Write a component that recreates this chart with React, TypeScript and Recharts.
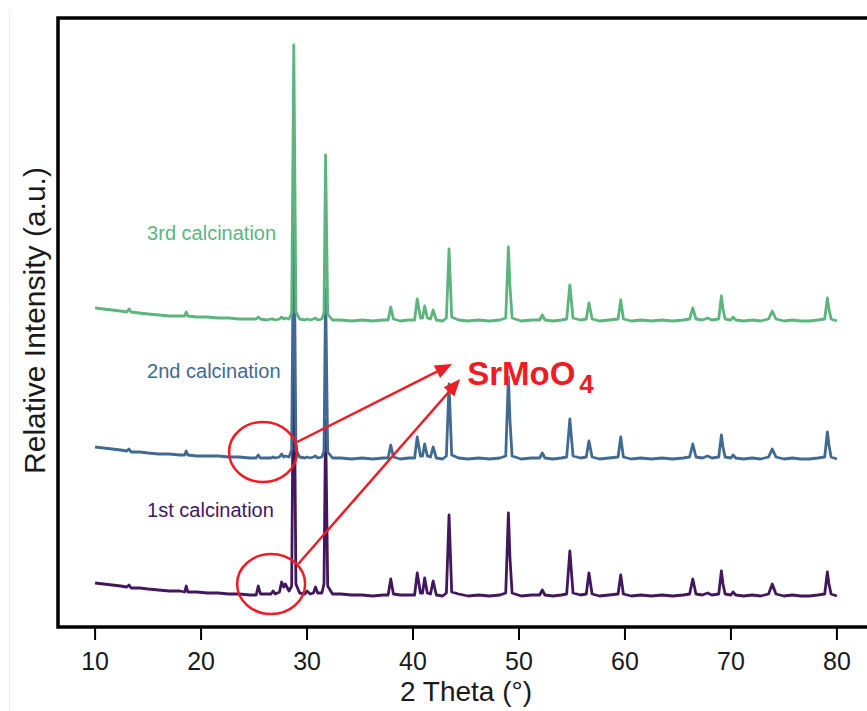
import React from 'react';
import { LineChart, Line, XAxis, YAxis, ReferenceArea, ReferenceDot, ReferenceLine } from 'recharts';

// 2θ grid shared by the three scans
const twoTheta = [
  10.0, 10.8, 11.6, 12.4, 13.0, 13.2, 13.4, 14.2, 15.0, 16.0,
  17.0, 18.0, 18.45, 18.6, 18.75, 19.6, 20.6, 21.6, 22.6, 23.6,
  24.6, 25.2, 25.4, 25.6, 26.2, 26.6, 26.8, 27.0, 27.4, 27.6,
  27.8, 27.95, 28.3, 28.55, 28.75, 28.95, 29.3, 29.8, 30.0, 30.3,
  30.6, 30.8, 31.0, 31.4, 31.6, 31.75, 31.95, 32.4, 33.2, 34.2,
  35.2, 36.2, 37.2, 37.65, 37.9, 38.15, 38.8, 39.6, 40.15, 40.4,
  40.7, 40.9, 41.1, 41.35, 41.65, 41.9, 42.2, 42.8, 43.15, 43.4,
  43.65, 44.3, 45.2, 46.2, 47.2, 48.2, 48.75, 49.0, 49.15, 49.35,
  50.2, 51.2, 51.95, 52.2, 52.45, 53.2, 54.0, 54.5, 54.8, 55.1,
  55.8, 56.35, 56.6, 56.9, 57.6, 58.5, 59.35, 59.6, 59.85, 60.6,
  61.5, 62.5, 63.5, 64.5, 65.5, 66.1, 66.4, 66.7, 67.3, 67.8,
  68.2, 68.85, 69.1, 69.25, 69.45, 70.0, 70.2, 70.45, 71.2, 72.0,
  72.8, 73.55, 73.9, 74.25, 75.0, 75.8, 76.6, 77.4, 78.2, 78.85,
  79.1, 79.25, 79.45, 80.0,
];

// intensities above each scan's own baseline (a.u.)
const firstCalc = [
  13, 12, 11, 10, 9, 11, 8, 8, 7, 6,
  5, 5, 4, 10, 4, 4, 3, 3, 2, 2,
  1, 1, 10, 2, 2, 2, 5, 2, 4, 14,
  9, 12, 5, 10, 285, 12, 3, 2, 5, 2,
  3, 9, 3, 3, 12, 176, 10, 2, 2, 1,
  1, 0, 1, 1, 17, 2, 1, 1, 1, 23,
  3, 3, 18, 3, 2, 15, 1, 0, 3, 81,
  4, 2, 0, 1, 0, 1, 3, 83, 38, 3,
  0, 1, 1, 6, 1, 0, 1, 2, 45, 3,
  1, 2, 23, 2, 0, 1, 2, 21, 2, 0,
  1, 0, 1, 0, 1, 2, 17, 2, 1, 3,
  1, 2, 25, 12, 2, 1, 4, 1, 0, 1,
  0, 2, 12, 2, 0, 1, 0, 0, 1, 2,
  24, 12, 2, 0,
];

const secondCalc = [
  12, 11, 10, 9, 8, 10, 7, 7, 6, 5,
  5, 4, 4, 8, 4, 3, 3, 3, 2, 2,
  1, 1, 4, 1, 1, 1, 2, 1, 2, 5,
  2, 3, 2, 9, 272, 9, 2, 1, 2, 1,
  2, 3, 1, 2, 8, 170, 7, 1, 1, 0,
  1, 0, 1, 1, 14, 2, 0, 1, 1, 22,
  3, 3, 15, 3, 2, 12, 1, 0, 3, 75,
  4, 1, 0, 1, 0, 1, 3, 82, 38, 3,
  0, 1, 1, 6, 1, 0, 1, 2, 40, 3,
  1, 2, 18, 2, 0, 1, 2, 22, 2, 0,
  1, 0, 1, 0, 1, 2, 15, 2, 1, 3,
  1, 2, 24, 12, 2, 1, 4, 1, 0, 1,
  0, 2, 10, 2, 0, 1, 0, 0, 1, 2,
  27, 14, 2, 0,
];

const thirdCalc = [
  13, 12, 11, 10, 9, 12, 9, 8, 7, 6,
  5, 5, 5, 9, 5, 4, 4, 3, 3, 2,
  2, 2, 4, 2, 1, 2, 2, 1, 2, 4,
  2, 3, 2, 8, 276, 9, 2, 1, 2, 1,
  2, 3, 1, 2, 8, 166, 7, 1, 1, 0,
  1, 0, 1, 1, 14, 2, 0, 1, 1, 22,
  3, 3, 15, 3, 2, 11, 1, 0, 3, 72,
  4, 1, 0, 1, 0, 1, 3, 74, 34, 3,
  0, 1, 1, 6, 1, 0, 1, 2, 36, 3,
  1, 2, 18, 2, 0, 1, 2, 21, 2, 0,
  1, 0, 1, 0, 1, 2, 13, 2, 1, 3,
  1, 2, 25, 12, 2, 1, 4, 1, 0, 1,
  0, 2, 10, 2, 0, 1, 0, 0, 1, 2,
  23, 12, 2, 0,
];

// vertical stacking offsets
const stackOffsets = [31, 168, 306];
const seriesNames = ['1st calcination', '2nd calcination', '3rd calcination'];
const xTicks = [10, 20, 30, 40, 50, 60, 70, 80];

const data = twoTheta.map((t, i) => ({
  t,
  first: firstCalc[i] + stackOffsets[0],
  second: secondCalc[i] + stackOffsets[1],
  third: thirdCalc[i] + stackOffsets[2],
}));

const FONT = '"Liberation Sans", Arial, Helvetica, sans-serif';
const COLORS = ['#42175e', '#416a92', '#5cb57d'];
const RED = '#ee1c24';

const Arrow = (props: any) => {
  const { x1, y1, x2, y2 } = props;
  const ang = Math.atan2(y2 - y1, x2 - x1);
  const len = 17;
  const hw = 7;
  const bx = x2 - len * Math.cos(ang);
  const by = y2 - len * Math.sin(ang);
  const px = -Math.sin(ang) * hw;
  const py = Math.cos(ang) * hw;
  return (
    <g>
      <line x1={x1} y1={y1} x2={bx} y2={by} stroke={RED} strokeWidth={2.5} />
      <polygon points={`${x2},${y2} ${bx + px},${by + py} ${bx - px},${by - py}`} fill={RED} />
    </g>
  );
};

const ringShape = (p: any) => (
  <ellipse cx={p.cx} cy={p.cy} rx={34} ry={30} fill="none" stroke={RED} strokeWidth={2.5} />
);

const seriesLabel = (text: string, color: string) => (p: any) => (
  <text x={p.cx} y={p.cy} fill={color} fontSize={20} fontFamily={FONT}>{text}</text>
);

const phaseLabel = (p: any) => (
  <text x={p.cx} y={p.cy} fill={RED} fontSize={33} fontWeight="bold" fontFamily={FONT}>
    SrMoO
    <tspan fontSize={26} dx={4} dy={8}>4</tspan>
  </text>
);

const xTitle = (props: any) => {
  const { viewBox } = props;
  return (
    <text x={viewBox.x + viewBox.width / 2} y={viewBox.y + 74} textAnchor="middle" fontSize={28} fill="#1a1a1a" fontFamily={FONT}>
      2 Theta (°)
    </text>
  );
};

const yTitle = (props: any) => {
  const { viewBox } = props;
  const cy = viewBox.y + viewBox.height / 2 - 2;
  return (
    <text x={45} y={cy} transform={`rotate(-90 45 ${cy})`} textAnchor="middle" fontSize={30} fill="#1a1a1a" fontFamily={FONT}>
      Relative Intensity (a.u.)
    </text>
  );
};

export default function App() {
  return (
    <div style={{ position: 'absolute', left: 0, top: 0, width: 867, height: 711, overflow: 'hidden', background: '#fff' }}>
      <div style={{ position: 'absolute', left: 9, top: 10, width: 1, height: 701, background: '#ececec' }} />
      <LineChart width={880} height={711} data={data} margin={{ top: 18, right: 6, bottom: 0, left: 0 }}>
        <XAxis
          dataKey="t"
          type="number"
          domain={[6.5, 83.5]}
          ticks={xTicks}
          interval={0}
          height={84}
          axisLine={false}
          tickSize={13}
          tickMargin={12}
          tickLine={{ stroke: '#000', strokeWidth: 2 }}
          tick={{ fill: '#1a1a1a', fontSize: 25, fontFamily: FONT }}
          label={{ content: xTitle }}
        />
        <YAxis
          type="number"
          domain={[0, 609]}
          width={58}
          tick={false}
          tickLine={false}
          axisLine={false}
          label={{ content: yTitle }}
        />
        <ReferenceArea x1={6.5} x2={83.5} y1={0} y2={609} fill="none" stroke="#000" strokeWidth={3.5} ifOverflow="visible" />
        <Line dataKey="first" type="linear" stroke={COLORS[0]} strokeWidth={2.8} dot={false} isAnimationActive={false} strokeLinejoin="round" />
        <Line dataKey="second" type="linear" stroke={COLORS[1]} strokeWidth={2.8} dot={false} isAnimationActive={false} strokeLinejoin="round" />
        <Line dataKey="third" type="linear" stroke={COLORS[2]} strokeWidth={2.8} dot={false} isAnimationActive={false} strokeLinejoin="round" />
        <ReferenceDot x={14.91} y={387} r={1} shape={seriesLabel(seriesNames[2], COLORS[2])} />
        <ReferenceDot x={14.91} y={249.5} r={1} shape={seriesLabel(seriesNames[1], COLORS[1])} />
        <ReferenceDot x={14.91} y={110} r={1} shape={seriesLabel(seriesNames[0], COLORS[0])} />
        <ReferenceDot x={25.85} y={175} r={1} shape={ringShape} />
        <ReferenceDot x={26.61} y={43} r={1} shape={ringShape} />
        <ReferenceLine segment={[{ x: 29.06, y: 185 }, { x: 43.69, y: 263 }]} shape={Arrow} />
        <ReferenceLine segment={[{ x: 29.16, y: 63 }, { x: 44.45, y: 248 }]} shape={Arrow} />
        <ReferenceDot x={45.11} y={242} r={1} shape={phaseLabel} />
      </LineChart>
    </div>
  );
}
